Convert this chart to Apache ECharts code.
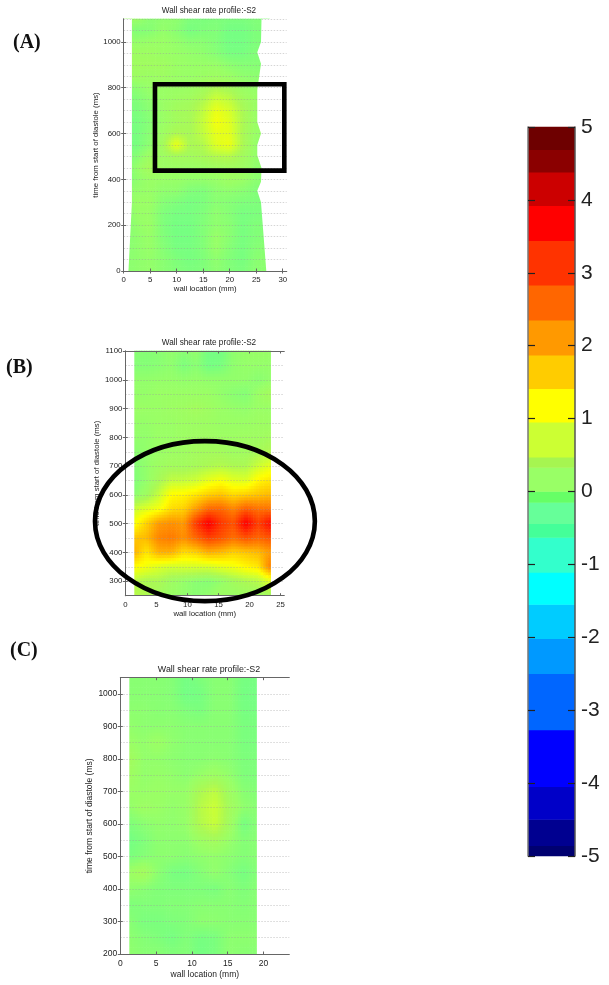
<!DOCTYPE html>
<html>
<head>
<meta charset="utf-8">
<title>Wall shear rate profile</title>
<style>
html, body { margin: 0; padding: 0; background: #fff; }
#main { width: 609px; height: 985px; }
</style>
<script src="https://cdn.jsdelivr.net/npm/echarts@6/dist/echarts.min.js"></script>
</head>
<body>
<div id="main"></div>
<script>
// shear rate, rows run from the latest time down to the earliest
var timesA = [1100, 1050, 1000, 950, 900, 850, 800, 750, 700, 650, 600, 550, 500, 450, 400, 350, 300, 250, 200, 150, 100, 50, 0];
var wallA = [0, 2.5, 5, 7.5, 10, 12.5, 15, 17.5, 20, 22.5, 25, 27.5];
var shearA = [
	[.18, .18, .06, .10, .10, -.02, -.04, -.02, -.04, -.04, 0, 0],
	[.13, 0, .03, .13, .06, -.07, -.02, 0, -.10, -.10, -.02, -.02],
	[.16, .13, .16, .18, .13, .06, .06, 0, -.10, -.10, -.02, -.02],
	[.23, .23, .23, .18, .16, .13, .10, .03, -.07, -.07, 0, 0],
	[.23, .26, .26, .26, .18, .16, .16, .16, .08, .03, .03, .03],
	[.18, .23, .20, .23, .18, .16, .20, .23, .18, .10, .08, .08],
	[.03, .08, .16, .18, .18, .20, .28, .42, .32, .18, .13, .13],
	[-.02, 0, .10, .18, .23, .28, .42, .72, .58, .30, .18, .18],
	[-.04, -.04, .06, .18, .30, .34, .58, .98, .80, .40, .18, .18],
	[-.07, -.07, .03, .18, .30, .36, .64, 1.08, .90, .42, .18, .18],
	[-.07, -.07, .06, .23, .42, .36, .60, .95, .92, .40, .16, .16],
	[-.07, -.07, .08, .32, 1.0, .40, .46, .88, 1.0, .42, .13, .13],
	[-.02, .03, .23, .23, .32, .30, .36, .48, .50, .30, .13, .13],
	[-.02, .13, .35, .18, .20, .18, .20, .26, .28, .23, .10, .10],
	[-.07, .10, .18, .16, .16, .13, .13, .16, .23, .18, .08, .08],
	[.08, .13, .16, .10, .10, 0, -.02, .08, .10, .06, 0, 0],
	[.03, .18, .18, .03, -.02, -.07, -.04, .06, .03, -.02, -.02, -.02],
	[-.02, .16, .16, -.02, -.07, -.07, -.02, .10, .03, -.07, -.04, -.04],
	[-.02, .13, .18, -.02, -.09, -.09, 0, .10, .06, -.07, 0, 0],
	[.03, .10, .16, 0, -.09, -.09, 0, .16, .06, -.07, 0, .03],
	[.03, .10, .16, .03, -.07, -.07, 0, .16, .03, -.07, .03, .06],
	[.06, .10, .13, .06, -.02, -.07, -.02, .10, 0, -.07, .06, .08],
	[.06, .10, .13, .06, 0, -.04, -.02, .08, 0, -.04, .06, .08]
];
var edgeTimesA = [0, 300, 350, 390, 450, 505, 550, 600, 650, 790, 905, 955, 1000, 1100];
var edgeLeftA = [.9, 1.55, 1.55, 1.55, 1.55, 1.55, 1.55, 1.55, 1.55, 1.55, 1.55, 1.55, 1.55, 1.55];
var edgeRightA = [26.9, 25.9, 25.2, 25.9, 26, 25.2, 25.2, 25.9, 25.2, 25.2, 25.9, 25.2, 25.9, 26];

var timesB = [1100, 1050, 1000, 950, 900, 850, 800, 750, 700, 650, 600, 550, 500, 450, 400, 350, 300, 250];
var wallB = [1.45, 3.45, 5.45, 7.45, 9.45, 11.45, 13.45, 15.45, 17.45, 19.45, 21.45, 23.45];
var shearB = [
	[.05, .02, .05, .12, .05, .12, -.10, -.10, .10, .14, .16, .16],
	[.02, .02, .05, .10, -.03, .06, -.10, -.06, .10, .14, .14, .14],
	[.12, .12, .14, .14, .12, .14, .12, .12, .12, .12, .06, .12],
	[.14, .14, .18, .18, .18, .18, .18, .12, .06, .02, .18, .32],
	[.18, .18, .18, .22, .24, .30, .24, .18, .14, .12, .18, .18],
	[.14, .14, .18, .18, .22, .22, .22, .18, .18, .18, .22, .22],
	[.12, .12, .18, .18, .22, .24, .24, .22, .22, .24, .24, .30],
	[.06, .12, .18, .22, .24, .30, .30, .30, .24, .26, .34, .46],
	[.02, .12, .24, .30, .30, .35, .42, .48, .42, .42, .70, .95],
	[0, .12, .36, .60, .62, .72, .95, 1.1, .90, .85, 1.25, 1.4],
	[.06, .24, .65, 1.2, 1.25, 1.4, 1.6, 1.7, 1.5, 1.6, 1.7, 1.8],
	[.70, .90, 1.1, 1.5, 1.6, 2.1, 2.6, 2.6, 2.3, 2.7, 2.5, 2.5],
	[1.1, 1.6, 2.1, 2.2, 2.1, 3.1, 3.75, 3.1, 2.8, 3.75, 3.0, 3.6],
	[1.7, 1.8, 2.3, 2.4, 2.2, 2.6, 3.0, 2.8, 2.5, 2.8, 2.6, 2.8],
	[1.9, 1.4, 1.9, 1.9, 1.5, 1.6, 1.9, 1.8, 1.6, 1.7, 1.8, 2.1],
	[1.2, 1.05, .85, .75, .80, .80, .80, .95, 1.05, 1.25, 1.4, 2.4],
	[.55, .40, .40, .24, .14, .06, .03, .12, .30, .42, .52, .90],
	[.50, .45, .30, .18, .12, .06, .12, .24, .18, .24, .24, .30]
];
var edgeTimesB = [250, 1100];
var edgeLeftB = [1.45, 1.45];
var edgeRightB = [23.45, 23.45];

var timesC = [1050, 1000, 950, 900, 850, 800, 750, 700, 650, 600, 550, 500, 450, 400, 350, 300, 250, 200];
var wallC = [1.26, 3.26, 5.26, 7.26, 9.26, 11.26, 13.26, 15.26, 17.26, 19.26];
var shearC = [
	[.05, .05, .05, .02, -.10, -.02, .05, .05, -.08, -.08],
	[.05, .05, .05, .02, -.12, -.08, .05, .05, -.10, -.10],
	[.08, .08, .05, .05, -.02, -.05, .05, .05, -.08, -.08],
	[.12, .08, .08, .08, .05, .05, .05, .05, -.05, -.05],
	[.18, .12, .20, .10, .05, .05, .05, .05, -.05, -.05],
	[.30, .12, .12, .08, .05, .05, .08, .05, -.03, -.03],
	[.25, .12, .15, .12, .07, .15, .22, .12, -.02, -.02],
	[.18, .15, .18, .15, .15, .42, .58, .25, .05, .02],
	[.12, .22, .18, .12, .16, .52, .70, .32, .10, .05],
	[-.02, .06, .12, .10, .14, .48, .66, .28, -.08, .05],
	[-.10, -.02, .08, .08, .08, .22, .32, .15, .02, .05],
	[-.05, .02, .08, .08, .05, .10, .12, .08, .02, .05],
	[.20, .32, .08, -.06, -.08, .02, .12, .02, -.08, .02],
	[.10, .05, 0, -.02, -.02, -.02, -.05, .05, -.02, .05],
	[-.02, 0, 0, .02, .02, .05, .05, .05, .02, .05],
	[.05, -.05, -.05, -.02, 0, .08, .08, .05, .05, .05],
	[.08, .02, -.02, -.08, 0, -.08, -.05, .08, .08, .08],
	[.10, .05, .05, 0, .02, -.10, -.05, .08, .05, .05]
];
var edgeTimesC = [200, 1050];
var edgeLeftC = [1.26, 1.26];
var edgeRightC = [19.07, 19.07];

var xTicksA = [0, 5, 10, 15, 20, 25, 30];
var yTicksA = [0, 200, 400, 600, 800, 1000];
var xTicksB = [0, 5, 10, 15, 20, 25];
var yTicksB = [300, 400, 500, 600, 700, 800, 900, 1000, 1100];
var xTicksC = [0, 5, 10, 15, 20];
var yTicksC = [200, 300, 400, 500, 600, 700, 800, 900, 1000];

// marked regions, data units: [x0, t0, x1, t1] and [cx, ct, rx, rt]
var boxA = [5.9, 438, 30.3, 815];
var ellipseB = [12.82, 509, 17.7, 278];

// colour bar bands
var barEdges = [-5, -4.86, -4.5, -4.05, -3.27, -2.5, -2.02, -1.55, -1.11, -.63, -.44, -.15, 0, .33, .47, .95, 1.41, 1.87, 2.35, 2.83, 3.44, 3.92, 4.38, 4.69, 5];
var barColors = ['#000070', '#000090', '#0000c8', '#0000ff', '#0066ff', '#0099ff', '#00ccff', '#00ffff', '#33ffcc', '#44ff99', '#66ff99', '#66ff66', '#99ff66', '#a6f550', '#ccff33', '#ffff00', '#ffcc00', '#ff9900', '#ff6600', '#ff3300', '#ff0000', '#cc0000', '#8b0000', '#6e0000'];
var barTicks = [-5, -4, -3, -2, -1, 0, 1, 2, 3, 4, 5];

// colours of the smooth field, the plots do not step like the bar
var rampValues = [-.3, -.07, .165, .4, .71, 1.18, 1.64, 2.1, 2.6, 3.13, 3.68, 4.15];
var rampColors = ['#66ff99', '#78ff80', '#99ff66', '#aaf955', '#ccff33', '#ffff00', '#ffcc00', '#ff9900', '#ff6600', '#ff3300', '#ff0000', '#cc0000'];

var panels = [
	{ name: 'A', times: timesA, wall: wallA, shear: shearA, edgeT: edgeTimesA, edgeL: edgeLeftA, edgeR: edgeRightA, xTicks: xTicksA, yTicks: yTicksA,
		left: 123.7, top: 19, width: 163, height: 252, xMax: 30.75, yMin: 0, yMax: 1100, font: 7.8, gap: 22, nameGapX: 14, titleY: 10 },
	{ name: 'B', times: timesB, wall: wallB, shear: shearB, edgeT: edgeTimesB, edgeL: edgeLeftB, edgeR: edgeRightB, xTicks: xTicksB, yTicks: yTicksB,
		left: 125.3, top: 351, width: 159, height: 244.7, xMax: 25.6, yMin: 250, yMax: 1100, font: 7.8, gap: 19, nameGapX: 14, titleY: 342 },
	{ name: 'C', times: timesC, wall: wallC, shear: shearC, edgeT: edgeTimesC, edgeL: edgeLeftC, edgeR: edgeRightC, xTicks: xTicksC, yTicks: yTicksC,
		left: 120.3, top: 677.7, width: 169, height: 276.3, xMax: 23.6, yMin: 200, yMax: 1050, font: 8.5, gap: 24, nameGapX: 16, titleY: 668 }
];

var TEXT = '#222';
var LINE = '#666';
var SUB = 5;

function rgbOf(hex) {
	return [parseInt(hex.substr(1, 2), 16), parseInt(hex.substr(3, 2), 16), parseInt(hex.substr(5, 2), 16)];
}

function colorAt(v) {
	var n = rampValues.length;
	if(v <= rampValues[0]) v = rampValues[0];
	if(v >= rampValues[n - 1]) v = rampValues[n - 1];
	var i = 0;
	while(i < n - 2 && v > rampValues[i + 1]) i++;
	var f = (v - rampValues[i]) / (rampValues[i + 1] - rampValues[i]);
	var a = rgbOf(rampColors[i]), b = rgbOf(rampColors[i + 1]);
	return 'rgb(' + Math.round(a[0] + (b[0] - a[0]) * f) + ',' + Math.round(a[1] + (b[1] - a[1]) * f) + ',' + Math.round(a[2] + (b[2] - a[2]) * f) + ')';
}

// one cell: the read values at its corners, shaded across it like shading interp
function renderCell(params, api) {
	var x0 = api.value(0), t0 = api.value(1), x1 = api.value(2), t1 = api.value(3);
	var v00 = api.value(4), v10 = api.value(5), v01 = api.value(6), v11 = api.value(7);
	var children = [];
	for(var i = 0; i < SUB; i++) {
		for(var j = 0; j < SUB; j++) {
			var fx = (i + .5) / SUB, ft = (j + .5) / SUB;
			var a = api.coord([x0 + (x1 - x0) * i / SUB, t0 + (t1 - t0) * j / SUB]);
			var b = api.coord([x0 + (x1 - x0) * (i + 1) / SUB, t0 + (t1 - t0) * (j + 1) / SUB]);
			var top = v00 + (v10 - v00) * fx;
			var bottom = v01 + (v11 - v01) * fx;
			children.push({
				type: 'rect',
				shape: {
					x: Math.min(a[0], b[0]) - .3,
					y: Math.min(a[1], b[1]) - .3,
					width: Math.abs(b[0] - a[0]) + .6,
					height: Math.abs(b[1] - a[1]) + .6
				},
				style: { fill: colorAt(top + (bottom - top) * ft) },
				silent: true
			});
		}
	}
	return { type: 'group', children: children };
}

function cellData(p) {
	var data = [];
	for(var j = 0; j < p.times.length - 1; j++) {
		for(var i = 0; i < p.wall.length - 1; i++) {
			data.push([p.wall[i], p.times[j], p.wall[i + 1], p.times[j + 1], p.shear[j][i], p.shear[j][i + 1], p.shear[j + 1][i], p.shear[j + 1][i + 1]]);
		}
	}
	return data;
}

// white outside the vessel wall
function renderMask(p) {
	return function(params, api) {
		var left = [api.coord([0, p.edgeT[0]])];
		var right = [api.coord([p.xMax, p.edgeT[0]])];
		for(var i = 0; i < p.edgeT.length; i++) {
			left.push(api.coord([p.edgeL[i], p.edgeT[i]]));
			right.push(api.coord([p.edgeR[i], p.edgeT[i]]));
		}
		left.push(api.coord([0, p.edgeT[p.edgeT.length - 1]]));
		right.push(api.coord([p.xMax, p.edgeT[p.edgeT.length - 1]]));
		return {
			type: 'group',
			children: [
				{ type: 'polygon', shape: { points: left }, style: { fill: '#fff' }, silent: true },
				{ type: 'polygon', shape: { points: right }, style: { fill: '#fff' }, silent: true }
			]
		};
	};
}

function renderBox(params, api) {
	var a = api.coord([api.value(0), api.value(1)]);
	var b = api.coord([api.value(2), api.value(3)]);
	return {
		type: 'rect',
		shape: { x: a[0], y: b[1], width: b[0] - a[0], height: a[1] - b[1] },
		style: { fill: null, stroke: '#000', lineWidth: 4.6 },
		silent: true
	};
}

function renderEllipse(params, api) {
	var c = api.coord([api.value(0), api.value(1)]);
	var size = api.size([api.value(2), api.value(3)]);
	return {
		type: 'ellipse',
		shape: { cx: c[0], cy: c[1], rx: size[0], ry: size[1] },
		style: { fill: null, stroke: '#000', lineWidth: 4.6 },
		silent: true
	};
}

function renderBand(params, api) {
	var a = api.coord([0, api.value(0)]);
	var b = api.coord([1, api.value(1)]);
	return {
		type: 'rect',
		shape: { x: a[0], y: b[1] - .3, width: b[0] - a[0], height: a[1] - b[1] + .6 },
		style: { fill: barColors[params.dataIndex] },
		silent: true
	};
}

function plainNumber(v) {
	return String(v);
}

var grids = [], xAxes = [], yAxes = [], series = [], titles = [];

panels.forEach(function(p, k) {
	var nameStyle = { fontFamily: 'Liberation Sans', fontSize: p.font, color: TEXT };
	var xBase = xAxes.length;
	var yBase = yAxes.length;
	grids.push({ left: p.left, top: p.top, width: p.width, height: p.height });
	titles.push({
		text: 'Wall shear rate profile:-S2',
		left: 204,
		top: p.titleY - 8,
		textAlign: 'center',
		textStyle: { fontFamily: 'Liberation Sans', fontSize: p.font + .4, fontWeight: 'normal', color: TEXT }
	});
	xAxes.push({
		type: 'value', gridIndex: k, min: 0, max: p.xMax, interval: 5, z: 3,
		name: 'wall location (mm)', nameLocation: 'middle', nameGap: p.nameGapX, nameTextStyle: nameStyle,
		axisLine: { lineStyle: { color: LINE } },
		axisTick: { inside: true, length: 2.5, lineStyle: { color: LINE }, customValues: p.xTicks },
		axisLabel: { customValues: p.xTicks, formatter: plainNumber, margin: 5, fontFamily: 'Liberation Sans', fontSize: p.font, color: TEXT },
		splitLine: { show: false }
	});
	xAxes.push({
		type: 'value', gridIndex: k, position: 'top', min: 0, max: p.xMax, interval: 5, z: 3,
		axisLine: { lineStyle: { color: LINE } },
		axisTick: { inside: true, length: 2.5, lineStyle: { color: LINE }, customValues: p.xTicks },
		axisLabel: { show: false },
		splitLine: { show: false }
	});
	yAxes.push({
		type: 'value', gridIndex: k, min: p.yMin, max: p.yMax, interval: 100, z: 3,
		name: 'time from start of diastole (ms)', nameLocation: 'middle', nameGap: p.gap, nameRotate: 90, nameTextStyle: nameStyle,
		axisLine: { lineStyle: { color: LINE } },
		axisTick: { inside: true, length: 2.5, lineStyle: { color: LINE }, customValues: p.yTicks },
		axisLabel: { customValues: p.yTicks, formatter: plainNumber, margin: 3, fontFamily: 'Liberation Sans', fontSize: p.font, color: TEXT },
		splitLine: { show: false }
	});
	yAxes.push({
		type: 'value', gridIndex: k, position: 'right', min: p.yMin, max: p.yMax, interval: 100, z: 3,
		axisLine: { lineStyle: { color: LINE } },
		axisTick: { inside: true, length: 2.5, lineStyle: { color: LINE }, customValues: p.yTicks },
		axisLabel: { show: false },
		splitLine: { show: false }
	});
	// the dotted 50 ms lines
	yAxes.push({
		type: 'value', gridIndex: k, position: 'right', min: p.yMin, max: p.yMax, interval: 50, z: 3,
		axisLine: { show: false },
		axisTick: { show: false },
		axisLabel: { show: false },
		splitLine: { show: true, lineStyle: { color: '#999', width: .7, type: [1.5, 1.5], opacity: .6 } }
	});
	series.push({
		type: 'custom', name: p.name, xAxisIndex: xBase, yAxisIndex: yBase, z: 2,
		renderItem: renderCell, silent: true, animation: false,
		encode: { x: [0, 2], y: [1, 3] },
		data: cellData(p)
	});
	series.push({
		type: 'custom', xAxisIndex: xBase, yAxisIndex: yBase, z: 2,
		renderItem: renderMask(p), silent: true, animation: false,
		data: [[0, p.yMin]]
	});
	if(p.name === 'A') {
		series.push({
			type: 'custom', xAxisIndex: xBase, yAxisIndex: yBase, z: 5,
			renderItem: renderBox, silent: true, animation: false, clip: false,
			encode: { x: [0, 2], y: [1, 3] },
			data: [boxA]
		});
	}
	if(p.name === 'B') {
		series.push({
			type: 'custom', xAxisIndex: xBase, yAxisIndex: yBase, z: 5,
			renderItem: renderEllipse, silent: true, animation: false, clip: false,
			encode: { x: 0, y: 1 },
			data: [ellipseB]
		});
	}
});

// colour bar
var barBands = [];
for(var b = 0; b < barColors.length; b++) {
	barBands.push([barEdges[b], barEdges[b + 1]]);
}
var barTickStyle = { show: true, inside: true, length: 7, lineStyle: { color: '#222', width: 1.2 } };
grids.push({ left: 528, top: 127, width: 47, height: 729 });
xAxes.push({ type: 'value', gridIndex: 3, min: 0, max: 1, show: false });
yAxes.push({
	type: 'value', gridIndex: 3, position: 'left', min: -5, max: 5, interval: 1, z: 3,
	axisLine: { lineStyle: { color: '#777', width: 1.5 } },
	axisTick: barTickStyle,
	axisLabel: { show: false },
	splitLine: { show: false }
});
yAxes.push({
	type: 'value', gridIndex: 3, position: 'right', min: -5, max: 5, interval: 1, z: 3,
	axisLine: { lineStyle: { color: '#555', width: 1.5 } },
	axisTick: barTickStyle,
	axisLabel: { customValues: barTicks, margin: 6, fontFamily: 'Liberation Sans', fontSize: 21, color: TEXT },
	splitLine: { show: false }
});
series.push({
	type: 'custom', xAxisIndex: xAxes.length - 1, yAxisIndex: yAxes.length - 2, z: 2,
	renderItem: renderBand, silent: true, animation: false,
	encode: { y: [0, 1] },
	data: barBands
});

var option = {
	backgroundColor: '#fff',
	animation: false,
	title: titles,
	grid: grids,
	xAxis: xAxes,
	yAxis: yAxes,
	series: series,
	graphic: [
		{ type: 'text', left: 13, top: 33, style: { text: '(A)', font: 'bold 20px "Liberation Serif"', fill: '#111' } },
		{ type: 'text', left: 6, top: 358, style: { text: '(B)', font: 'bold 20px "Liberation Serif"', fill: '#111' } },
		{ type: 'text', left: 10, top: 641, style: { text: '(C)', font: 'bold 20px "Liberation Serif"', fill: '#111' } }
	]
};

var chart = echarts.init(document.getElementById('main'), null, { renderer: 'canvas' });
chart.setOption(option);
</script>
</body>
</html>
